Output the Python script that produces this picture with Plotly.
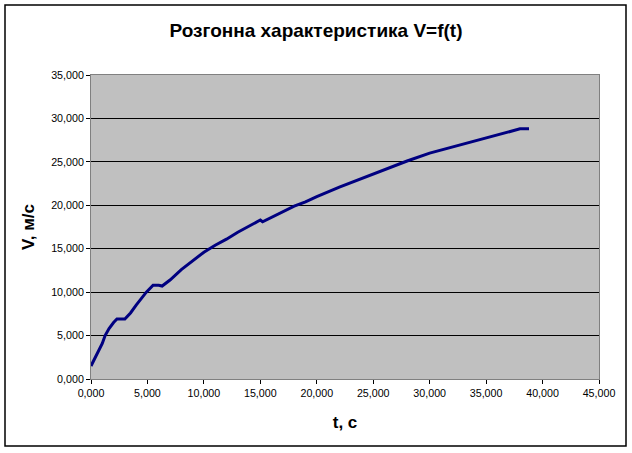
import plotly.graph_objects as go

# time, s
t = [0.0, 0.5, 1.0, 1.25, 1.6, 2.0, 2.3, 3.0, 3.5, 4.0, 4.5, 4.9, 5.5, 6.0, 6.3,
     7.0, 8.0, 9.0, 10.0, 11.0, 12.0, 13.0, 14.0, 14.8, 15.0, 15.2, 16.0, 17.0,
     18.0, 19.0, 20.0, 22.0, 24.0, 26.0, 28.0, 30.0, 32.0, 34.0, 36.0, 38.0, 38.8]
# speed, m/s
v = [1.5, 2.8, 4.1, 5.0, 5.8, 6.5, 6.9, 6.9, 7.6, 8.5, 9.3, 10.0, 10.8, 10.8, 10.7,
     11.4, 12.6, 13.6, 14.6, 15.4, 16.1, 16.9, 17.6, 18.2, 18.3, 18.1, 18.6, 19.2,
     19.9, 20.4, 21.0, 22.1, 23.1, 24.1, 25.1, 26.0, 26.7, 27.4, 28.1, 28.8, 28.8]

x_ticks = [0, 5, 10, 15, 20, 25, 30, 35, 40, 45]
y_ticks = [0, 5, 10, 15, 20, 25, 30, 35]

fig = go.Figure()
fig.add_trace(go.Scatter(x=t, y=v, mode="lines",
                         line=dict(color="#000080", width=3), showlegend=False))

font = "Liberation Sans, Arial, sans-serif"
L, R, T, B = 91, 599, 75, 379
W, H = 632, 453
fig.update_layout(
    width=W, height=H,
    margin=dict(l=L, r=W - R, t=T, b=H - B),
    paper_bgcolor="white",
    plot_bgcolor="#C0C0C0",
    separators=",.",
    font=dict(family=font, size=10.7, color="black"),
    title=dict(text="<b>Розгонна характеристика V=f(t)</b>", x=0.5, xref="container",
               xanchor="center", y=1 - 30 / H, yanchor="middle",
               font=dict(size=19, family=font, color="black")),
    xaxis=dict(range=[0, 45], tickvals=x_ticks, tickformat=".3f",
               showgrid=False, zeroline=False, showline=True, linecolor="#808080",
               linewidth=1, mirror=True, ticks="outside", ticklen=4, tickcolor="black",
               title=dict(text="<b>t, с</b>", font=dict(size=17, family=font), standoff=18)),
    yaxis=dict(range=[0, 35], tickvals=y_ticks, tickformat=".3f",
               showgrid=True, gridcolor="black", gridwidth=1, zeroline=False,
               showline=True, linecolor="#808080", linewidth=1, mirror=True,
               ticks="outside", ticklen=4, tickcolor="black",
               title=dict(text="<b>V, м/с</b>", font=dict(size=17, family=font), standoff=12)),
    shapes=[dict(type="rect", xref="paper", yref="paper",
                 x0=(5 - L) / (R - L), x1=(626 - L) / (R - L),
                 y0=(B - 446) / (B - T), y1=(B - 5) / (B - T),
                 line=dict(color="black", width=1.5), fillcolor="rgba(0,0,0,0)",
                 layer="below")],
)
fig.write_html("out.html", config={"displayModeBar": False},
               post_script="document.body.style.margin='0';document.body.style.padding='0';")
